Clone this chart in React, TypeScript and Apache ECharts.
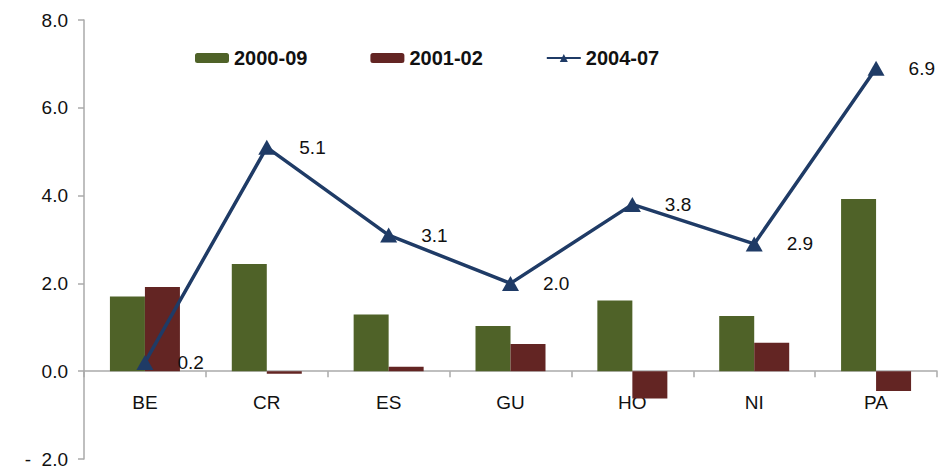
import React, { useEffect, useRef } from "react";
import * as echarts from "echarts";

const categories = ["BE", "CR", "ES", "GU", "HO", "NI", "PA"];
const series2000_09 = [1.7, 2.44, 1.29, 1.03, 1.61, 1.26, 3.92];
const series2001_02 = [1.92, -0.06, 0.1, 0.62, -0.62, 0.65, -0.45];
const series2004_07 = [0.2, 5.1, 3.1, 2.0, 3.8, 2.9, 6.9];
const seriesNames = ["2000-09", "2001-02", "2004-07"];

const FONT = "'Liberation Sans', Arial, sans-serif";

export default function App() {
  const ref = useRef<HTMLDivElement>(null);
  useEffect(() => {
    if (!ref.current) return;
    const chart = echarts.init(ref.current, undefined, { renderer: "svg" });
    chart.setOption({
      animation: false,
      backgroundColor: "#ffffff",
      textStyle: { fontFamily: FONT },
      legend: {
        top: 43,
        left: 190,
        itemWidth: 34,
        itemHeight: 10,
        itemGap: 63,
        textStyle: { fontFamily: FONT, fontSize: 20, fontWeight: "bold", color: "#111" },
        data: seriesNames,
      },
      grid: { left: 84, right: 9, top: 20, bottom: 11, containLabel: false, outerBoundsMode: "none" },
      xAxis: [
        {
          type: "category",
          data: categories,
          axisLine: { onZero: true, lineStyle: { color: "#aaaaaa", width: 1.5 } },
          axisTick: { show: true, length: 6, lineStyle: { color: "#aaaaaa", width: 1.5 } },
          axisLabel: { show: false },
        },
        {
          type: "category",
          data: categories,
          position: "bottom",
          offset: -88,
          axisLine: { show: false, onZero: false },
          axisTick: { show: false },
          axisLabel: { fontFamily: FONT, fontSize: 19, color: "#111", margin: 22 },
        },
      ],
      yAxis: {
        type: "value",
        min: -2,
        max: 8,
        interval: 2,
        axisLine: { show: true, lineStyle: { color: "#aaaaaa", width: 1.5 } },
        axisTick: { show: true, length: 6, lineStyle: { color: "#aaaaaa", width: 1.5 } },
        splitLine: { show: false },
        axisLabel: {
          fontFamily: FONT,
          fontSize: 19,
          color: "#111",
          margin: 16,
          formatter: (v: number) => (v < 0 ? "-  " + Math.abs(v).toFixed(1) : v.toFixed(1)),
        },
      },
      series: [
        {
          name: seriesNames[0],
          type: "bar",
          data: series2000_09,
          barWidth: 35,
          barGap: "0%",
          itemStyle: { color: "#4f6228" },
        },
        {
          name: seriesNames[1],
          type: "bar",
          data: series2001_02,
          barWidth: 35,
          barGap: "0%",
          itemStyle: { color: "#632523" },
        },
        {
          name: seriesNames[2],
          type: "line",
          data: series2004_07,
          symbol: "triangle",
          symbolSize: [17, 15],
          lineStyle: { color: "#1f3b66", width: 3.5 },
          itemStyle: { color: "#1f3b66" },
          label: {
            show: true,
            position: "right",
            distance: 24,
            fontFamily: FONT,
            fontSize: 19,
            color: "#111",
            formatter: (p: any) => Number(p.value).toFixed(1),
          },
          z: 5,
        },
      ],
    });
    return () => chart.dispose();
  }, []);
  return <div ref={ref} style={{ width: 946, height: 470, position: "fixed", left: 0, top: 0 }} />;
}
